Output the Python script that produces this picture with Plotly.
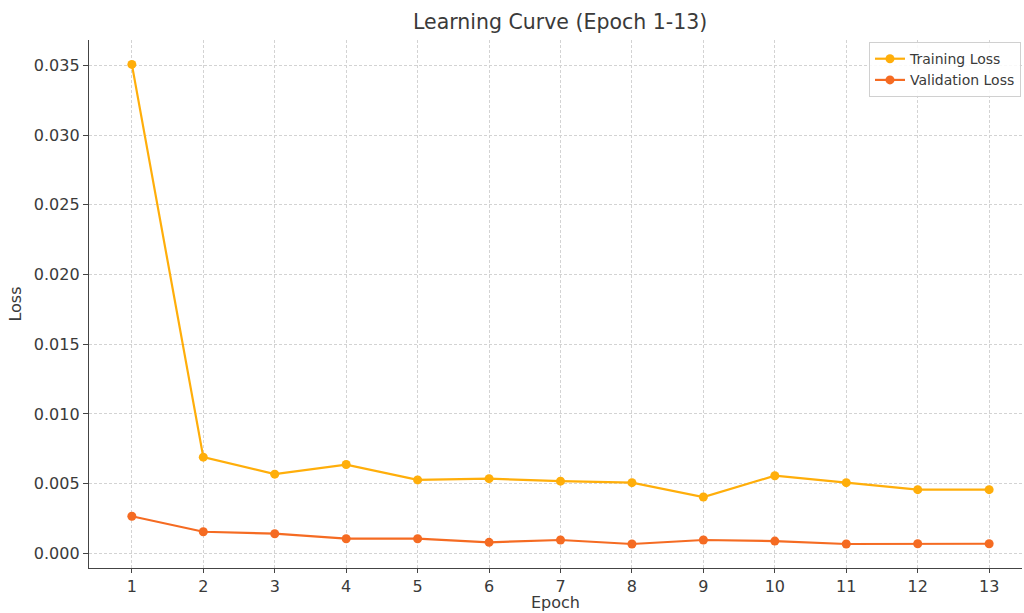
import plotly.graph_objects as go

epochs = list(range(1, 14))
training_loss = [0.03507, 0.00690, 0.00568, 0.00637, 0.00527, 0.00536, 0.00518,
                 0.00507, 0.00404, 0.00557, 0.00507, 0.00457, 0.00457]
validation_loss = [0.00266, 0.00155, 0.00141, 0.00105, 0.00105, 0.00079, 0.00096,
                   0.00067, 0.00096, 0.00088, 0.00067, 0.00069, 0.00069]
y_ticks = [0.0, 0.005, 0.010, 0.015, 0.020, 0.025, 0.030, 0.035]
y_tick_labels = ["0.000", "0.005", "0.010", "0.015", "0.020", "0.025", "0.030", "0.035"]

FONT = "DejaVu Sans"
TXT = "#3a3a3a"

fig = go.Figure()
fig.add_trace(go.Scatter(x=epochs, y=training_loss, mode="lines+markers", name="Training Loss",
                         line=dict(color="#FFAE0A", width=2.2),
                         marker=dict(color="#FFAE0A", size=9)))
fig.add_trace(go.Scatter(x=epochs, y=validation_loss, mode="lines+markers", name="Validation Loss",
                         line=dict(color="#F56B22", width=2.2),
                         marker=dict(color="#F56B22", size=9)))

fig.update_layout(
    width=1024, height=613,
    margin=dict(l=89, r=2, t=40, b=45, autoexpand=False),
    paper_bgcolor="white", plot_bgcolor="white",
    font=dict(family=FONT, color=TXT, size=16),
    title=dict(text="Learning Curve (Epoch 1-13)", x=0.547, xanchor="center",
               y=1 - 22 / 613, yanchor="middle",
               font=dict(family=FONT, size=20.5, color=TXT)),
    showlegend=True,
    legend=dict(x=0.9989, y=0.996, xanchor="right", yanchor="top",
                bgcolor="rgba(255,255,255,0.85)", bordercolor="#d0d0d0", borderwidth=1,
                font=dict(family=FONT, size=14, color=TXT), itemwidth=30,
                tracegroupgap=0),
    annotations=[dict(text="Epoch", xref="paper", yref="paper", x=0.5, y=0,
                      yshift=-34, xanchor="center", yanchor="middle", showarrow=False,
                      font=dict(family=FONT, size=16, color=TXT))],
)
fig.update_xaxes(
    range=[0.4, 13.46], tickmode="array", tickvals=epochs, ticktext=[str(e) for e in epochs],
    showgrid=True, gridcolor="#d3d3d3", griddash="3px,2px", gridwidth=0.8,
    showline=True, linecolor="#444444", linewidth=1.3, mirror=False,
    ticks="outside", ticklen=4, tickcolor="#444444", zeroline=False, automargin=False,
    tickfont=dict(family=FONT, size=16, color=TXT),
)
fig.update_yaxes(
    range=[-0.00105, 0.03682], tickmode="array", tickvals=y_ticks, ticktext=y_tick_labels,
    showgrid=True, gridcolor="#d3d3d3", griddash="3px,2px", gridwidth=0.8,
    showline=True, linecolor="#444444", linewidth=1.3, mirror=False,
    ticks="outside", ticklen=5, tickcolor="#444444", zeroline=False, automargin=False,
    title=dict(text="Loss", font=dict(family=FONT, size=16, color=TXT), standoff=8),
    tickfont=dict(family=FONT, size=16, color=TXT),
)

fig.write_html("out.html", config={"displayModeBar": False},
               post_script="document.body.style.margin='0px';document.body.style.overflow='hidden';")
